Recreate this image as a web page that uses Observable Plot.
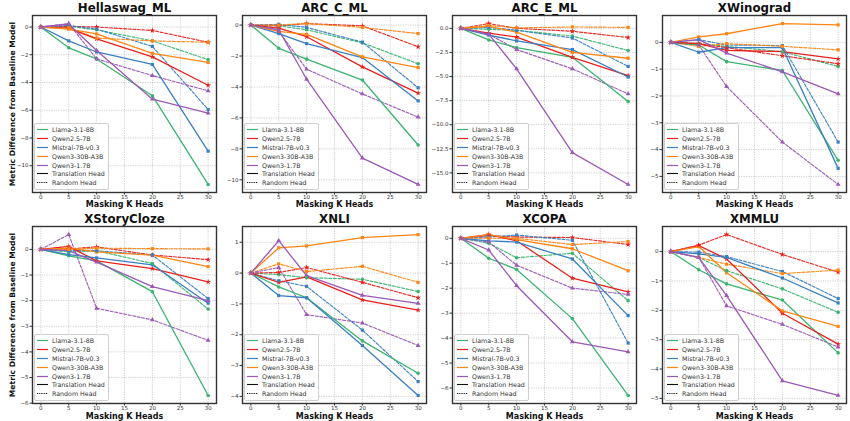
<!DOCTYPE html>
<html><head><meta charset="utf-8">
<script src="https://cdn.jsdelivr.net/npm/d3@7"></script>
<script src="https://cdn.jsdelivr.net/npm/@observablehq/plot@0.6"></script>
<style>
body{margin:0;background:#fff;font-family:"DejaVu Sans",sans-serif;}
#root{position:relative;width:850px;height:421px;overflow:hidden;background:#fff;}
#root svg.panel{position:absolute;}
.leg{position:absolute;background:rgba(255,255,255,0.85);border:0.7px solid #cfcfcf;border-radius:2px;padding:1.5px 3px 1.5px 2px;font-size:6.3px;color:#333;font-family:"DejaVu Sans",sans-serif;}
.leg .row{height:8.8px;display:flex;align-items:center;white-space:nowrap;}
.leg svg{margin-right:4px;flex:none;}
</style></head><body><div id="root"></div>
<script>
// ---- data ----
const kHeads = [0, 5, 10, 20, 30];
const models = ["Llama-3.1-8B", "Qwen2.5-7B", "Mistral-7B-v0.3", "Qwen3-30B-A3B", "Qwen3-1.7B"];
const modelColors = ["#3cb371", "#e8211d", "#3a7fc1", "#ff8514", "#9b59b6"];
const modelSymbols = ["circle", "star", "square", "square", "triangle"];
const datasets = ["Hellaswag_ML", "ARC_C_ML", "ARC_E_ML", "XWinograd", "XStoryCloze", "XNLI", "XCOPA", "XMMLU"];
const headTypes = ["Translation Head", "Random Head"];

// rows: models in order; values at kHeads
const hellaswagTranslation = [[0,-1.5,-2.3,-4.95,-11.35],[0,-0.1,-0.85,-2.15,-4.2],[0,-1.0,-1.8,-2.7,-8.95],[0,-0.15,-0.5,-1.9,-2.55],[0,0.2,-1.7,-5.2,-6.2]];
const hellaswagRandom = [[0,0.05,-0.2,-1.0,-2.35],[0,0.05,0.0,-0.25,-1.1],[0,0.1,-0.15,-1.4,-5.95],[0,-0.05,-0.8,-1.0,-1.1],[0,0.25,-2.3,-3.5,-4.6]];
const arcCTranslation = [[0,-1.5,-2.2,-3.55,-7.75],[0,-0.2,-0.75,-2.7,-4.4],[0,-0.55,-1.2,-2.1,-4.9],[0,-0.4,-0.6,-2.05,-2.75],[0,-0.3,-3.5,-8.6,-10.3]];
const arcCRandom = [[0,-0.05,-0.3,-1.15,-2.5],[0,-0.05,0.1,-0.05,-1.4],[0,0.05,-0.15,-1.1,-4.05],[0,0.0,0.1,-0.15,-0.55],[0,-0.4,-2.85,-4.45,-5.95]];
const arcETranslation = [[0,-1.2,-2.0,-3.0,-7.6],[0,-0.5,-0.9,-3.0,-4.9],[0,-0.7,-1.3,-2.2,-5.05],[0,0.2,-0.4,-2.5,-3.1],[0,-0.6,-4.2,-12.9,-16.2]];
const arcERandom = [[0,-0.1,-0.2,-0.8,-2.3],[0,0.5,0.0,-0.3,-0.95],[0,0.1,-0.2,-1.0,-3.95],[0,0.3,0.05,0.15,0.1],[0,-0.6,-2.2,-4.2,-6.8]];
const xwinogradTranslation = [[0,-0.1,-0.72,-1.05,-4.4],[0,-0.05,-0.3,-0.35,-0.62],[0,-0.37,-0.2,-0.2,-4.7],[0,0.2,0.32,0.7,0.65],[0,0.1,-0.4,-1.1,-1.92]];
const xwinogradRandom = [[0,-0.05,-0.15,-0.35,-0.9],[0,-0.05,-0.2,-0.5,-0.8],[0,0.1,-0.1,-0.12,-3.72],[0,-0.15,-0.05,-0.15,-0.28],[0,-0.1,-1.65,-3.72,-5.3]];
const xstoryclozeTranslation = [[0,-0.25,-0.45,-1.65,-5.7],[0,0.12,-0.45,-0.75,-1.27],[0,-0.2,-0.33,-0.6,-2.1],[0,0.05,-0.1,-0.22,-0.67],[0,-0.05,-0.5,-1.45,-2.0]];
const xstoryclozeRandom = [[0,-0.1,-0.05,-0.55,-2.33],[0,0.02,0.1,-0.22,-0.4],[0,-0.05,-0.05,-0.22,-1.92],[0,0.0,0.05,0.03,0.02],[0,0.58,-2.3,-2.75,-3.55]];
const xnliTranslation = [[0,-0.45,-0.8,-2.2,-3.25],[0,-0.3,-0.12,-0.87,-1.2],[0,-0.73,-0.8,-2.35,-3.97],[0,0.82,0.88,1.15,1.25],[0,1.05,-0.08,-0.72,-0.98]];
const xnliRandom = [[0,-0.05,-0.15,-0.2,-0.6],[0,0.02,0.18,-0.3,-0.8],[0,-0.25,-0.43,-1.85,-3.52],[0,0.3,0.05,0.22,-0.3],[0,0.18,-1.35,-1.62,-2.35]];
const xcopaTranslation = [[0,-0.8,-1.25,-3.22,-6.3],[0,0.15,-0.1,-1.6,-2.15],[0,-0.1,-0.15,-0.83,-3.1],[0,0.15,-0.05,-0.42,-1.3],[0,-0.47,-1.9,-4.15,-4.55]];
const xcopaRandom = [[0,-0.2,-0.78,-0.6,-2.5],[0,0.1,0.05,0.03,-0.25],[0,0.05,0.13,-0.08,-4.2],[0,0.0,0.0,-0.25,-0.13],[0,-0.15,-1.08,-2.0,-2.25]];
const xmmluTranslation = [[0,-0.62,-1.1,-1.65,-3.45],[0,0.2,-0.25,-2.1,-3.15],[0,-0.08,-0.2,-0.9,-1.75],[0,0.17,-0.72,-2.02,-2.55],[0,-0.2,-1.5,-4.4,-4.9]];
const xmmluRandom = [[0,-0.2,-0.65,-1.27,-2.07],[0,0.22,0.58,-0.1,-0.7],[0,-0.02,-0.17,-0.68,-1.6],[0,-0.2,-0.43,-0.75,-0.63],[0,-0.2,-1.85,-2.48,-3.25]];

const yTicks = [
  [0,-2,-4,-6,-8,-10],
  [0,-2,-4,-6,-8,-10],
  [0,-2.5,-5,-7.5,-10,-12.5,-15],
  [0,-1,-2,-3,-4,-5],
  [0,-1,-2,-3,-4,-5,-6],
  [1,0,-1,-2,-3,-4],
  [0,-1,-2,-3,-4,-5,-6],
  [0,-1,-2,-3,-4,-5]
];
const xTicks = [0,5,10,15,20,25,30];
const yLabel = "Metric Difference from Baseline Model";
const xLabel = "Masking K Heads";

const panelValues = [
  [hellaswagTranslation, hellaswagRandom],
  [arcCTranslation, arcCRandom],
  [arcETranslation, arcERandom],
  [xwinogradTranslation, xwinogradRandom],
  [xstoryclozeTranslation, xstoryclozeRandom],
  [xnliTranslation, xnliRandom],
  [xcopaTranslation, xcopaRandom],
  [xmmluTranslation, xmmluRandom]
];

// ---- layout ----
const frameLefts = [32, 242, 452, 662];
const frameTops = [15, 226];
const frameW = 184, frameH = 177;
const mL = 32, mR = 4, mT = 15, mB = 22;

const root = document.getElementById("root");

datasets.forEach((name, i) => {
  const col = i % 4, row = Math.floor(i / 4);
  const rows = [];
  panelValues[i].forEach((series, h) => {
    series.forEach((vals, m) => {
      vals.forEach((v, k) => rows.push({dataset: name, head: headTypes[h], model: models[m], k: kHeads[k], v}));
    });
  });
  const ext = d3.extent(rows, d => d.v);
  const pad = (ext[1] - ext[0]) * 0.05;
  const yDomain = [ext[0] - pad, ext[1] + pad];
  const fmt = i === 2 ? d3.format(".1f") : d3.format("d");

  const marks = [
    Plot.gridX(xTicks, {stroke: "#b0b0b0", strokeOpacity: 1, strokeWidth: 0.6, strokeDasharray: "1.2,1.2"}),
    Plot.gridY(yTicks[i], {stroke: "#b0b0b0", strokeOpacity: 1, strokeWidth: 0.6, strokeDasharray: "1.2,1.2"}),
    Plot.axisX(xTicks, {tickSize: 2.5, tickPadding: 0.3, fontSize: 5.5, label: null, stroke: "#333", fill: "#333"}),
    Plot.axisY(yTicks[i], {tickSize: 2.5, tickPadding: 1.5, fontSize: 5.5, label: null, tickFormat: fmt, stroke: "#333", fill: "#333"}),
    Plot.line(rows.filter(d => d.head === "Random Head"), {x: "k", y: "v", z: "model", stroke: "model", strokeWidth: 1.15, strokeDasharray: "3,1.6", strokeOpacity: 0.95}),
    Plot.line(rows.filter(d => d.head === "Translation Head"), {x: "k", y: "v", z: "model", stroke: "model", strokeWidth: 1.3}),
    Plot.dot(rows, {x: "k", y: "v", fill: "model", symbol: "model", r: 1.8, stroke: null}),
    Plot.frame({stroke: "#333", strokeWidth: 1.4}),
    Plot.text([name], {frameAnchor: "top", dy: -7, lineAnchor: "middle", fontSize: 11.8, fontWeight: "bold", fill: "#111"}),
    Plot.text([xLabel], {frameAnchor: "bottom", dy: row === 0 ? 12 : 12.5, lineAnchor: "middle", fontSize: 8, fontWeight: "bold", fill: "#111"})
  ];
  if (col === 0) {
    marks.push(Plot.text([yLabel], {frameAnchor: "left", dx: -20, rotate: -90, lineAnchor: "middle", textAnchor: "middle", fontSize: 7.6, fontWeight: "bold", fill: "#111"}));
  }

  const svg = Plot.plot({
    width: mL + frameW + mR,
    height: mT + frameH + mB,
    marginLeft: mL, marginRight: mR, marginTop: mT, marginBottom: mB,
    style: {background: "transparent", fontFamily: "DejaVu Sans, sans-serif", overflow: "visible"},
    x: {domain: [-1.5, 31.5], axis: null},
    y: {domain: yDomain, axis: null},
    color: {domain: models, range: modelColors},
    symbol: {domain: models, range: modelSymbols},
    marks
  });
  svg.classList.add("panel");
  svg.style.left = (frameLefts[col] - mL) + "px";
  svg.style.top = (frameTops[row] - mT) + "px";
  svg.style.maxWidth = "none";
  root.appendChild(svg);

  // legend
  const leg = document.createElement("div");
  leg.className = "leg";
  leg.style.left = (frameLefts[col] + 2) + "px";
  leg.style.top = (frameTops[row] + frameH - 4 - 65) + "px";
  const symPath = s => {
    const sym = {circle: d3.symbolCircle, star: d3.symbolStar, square: d3.symbolSquare, triangle: d3.symbolTriangle}[s];
    return d3.symbol(sym, 9).toString();
  };
  models.forEach((m, j) => {
    const r = document.createElement("div");
    r.className = "row";
    r.innerHTML = `<svg width="11" height="5"><line x1="0" x2="11" y1="2.5" y2="2.5" stroke="${modelColors[j]}" stroke-width="1.2"/><path transform="translate(5.5,2.5)" d="${symPath(modelSymbols[j])}" fill="${modelColors[j]}"/></svg><span>${m}</span>`;
    leg.appendChild(r);
  });
  headTypes.forEach((h, j) => {
    const r = document.createElement("div");
    r.className = "row";
    r.innerHTML = `<svg width="11" height="5"><line x1="0" x2="11" y1="2.5" y2="2.5" stroke="#111" stroke-width="1.1" ${j ? 'stroke-dasharray="1,0.8"' : ''}/></svg><span>${h}</span>`;
    leg.appendChild(r);
  });
  root.appendChild(leg);
});
</script>
</body></html>
